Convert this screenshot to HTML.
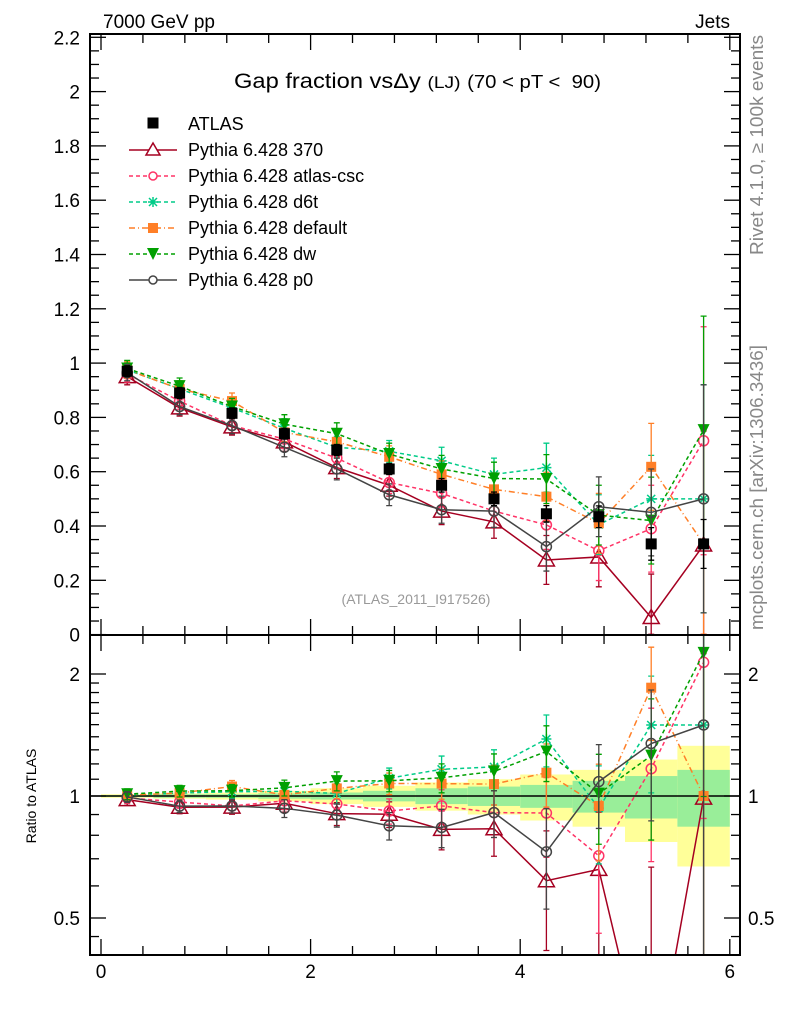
<!DOCTYPE html>
<html><head><meta charset="utf-8">
<style>
html,body{margin:0;padding:0;background:#fff;overflow:hidden;width:786px;height:1024px;}
svg{display:block;font-family:"Liberation Sans",sans-serif;}
</style></head>
<body>
<svg id="c" width="786" height="1024" viewBox="0 0 786 1024" xmlns="http://www.w3.org/2000/svg">
<rect width="786" height="1024" fill="#fff"/>
<text x="103" y="28" font-size="19">7000 GeV pp</text>
<text x="730" y="28" font-size="19" text-anchor="end">Jets</text>
<text x="234" y="88" font-size="21" textLength="367" lengthAdjust="spacingAndGlyphs">Gap fraction vs<tspan>Δ</tspan>y <tspan font-size="17">(LJ)</tspan> <tspan font-size="18">(70 &lt; pT &lt;&#160; 90)</tspan></text>
<text x="416" y="604" font-size="14" fill="#999" text-anchor="middle">(ATLAS_2011_I917526)</text>
<text transform="translate(763,255) rotate(-90)" font-size="18" fill="#888" textLength="220" lengthAdjust="spacingAndGlyphs">Rivet 4.1.0, ≥ 100k events</text>
<text transform="translate(763,630) rotate(-90)" font-size="18" fill="#888" textLength="285" lengthAdjust="spacingAndGlyphs">mcplots.cern.ch [arXiv:1306.3436]</text>
<text transform="translate(36,796) rotate(-90)" font-size="14" text-anchor="middle">Ratio to ATLAS</text>
<g id="bands"></g><g id="plots"></g><g id="axes"></g><g id="legend"></g>
</svg>
<script>
const xc=[0.25,0.75,1.25,1.75,2.25,2.75,3.25,3.75,4.25,4.75,5.25,5.75];
const atlas=[0.97,0.89,0.815,0.74,0.68,0.61,0.55,0.50,0.445,0.434,0.334,0.334];
const atlasErr=[0.02,0.02,0.02,0.02,0.02,0.02,0.025,0.025,0.03,0.04,0.06,0.09];
const s370=[0.95,0.835,0.765,0.71,0.615,0.55,0.455,0.415,0.275,0.286,0.063,0.33];
const sCsc=[0.96,0.86,0.77,0.72,0.65,0.56,0.52,0.455,0.404,0.309,0.39,0.714];
const sD6t=[0.975,0.905,0.835,0.76,0.69,0.675,0.64,0.59,0.615,0.405,0.50,0.50];
const sDef=[0.975,0.905,0.86,0.745,0.71,0.655,0.59,0.535,0.508,0.41,0.618,0.334];
const sDw=[0.98,0.915,0.84,0.775,0.74,0.665,0.61,0.575,0.573,0.44,0.42,0.753];
const sP0=[0.965,0.84,0.77,0.69,0.61,0.515,0.46,0.455,0.324,0.471,0.45,0.50];
const mcErr=[0.03,0.03,0.03,0.035,0.04,0.04,0.05,0.06,0.09,0.11,0.16,0.42];
const yelW=[0.01,0.015,0.02,0.03,0.045,0.06,0.08,0.10,0.13,0.16,0.23,0.33];
const grnW=[0.005,0.01,0.01,0.015,0.02,0.03,0.045,0.055,0.065,0.09,0.12,0.16];
const mainTicks=[0,0.2,0.4,0.6,0.8,1,1.2,1.4,1.6,1.8,2,2.2];
const ratioTicks=[0.5,1,2];
const xTicks=[0,2,4,6];

const NS="http://www.w3.org/2000/svg";
const L=90,R=740,T=34,M=635,B=955;
const X=v=>101+v*104.8;
const Y=v=>634.6-v*271.5;
const RY=r=>796-122*Math.log2(r);
function el(p,t,a){const e=document.createElementNS(NS,t);for(const k in a)e.setAttribute(k,a[k]);p.appendChild(e);return e;}
const svg=document.getElementById('c');
const defs=el(svg,'defs',{});
const c1=el(defs,'clipPath',{id:'cm'});el(c1,'rect',{x:L,y:T,width:R-L,height:M-T});
const c2=el(defs,'clipPath',{id:'cr'});el(c2,'rect',{x:L,y:M,width:R-L,height:B-M});

const bands=document.getElementById('bands');
bands.setAttribute('clip-path','url(#cr)');
xc.forEach((x,i)=>{
  const y=el(bands,'rect',{x:X(x-0.25),width:X(x+0.25)-X(x-0.25),y:RY(1+yelW[i]),height:RY(1-yelW[i])-RY(1+yelW[i]),fill:'#ffff99'});
  
  
  const g=el(bands,'rect',{x:X(x-0.25),width:X(x+0.25)-X(x-0.25),y:RY(1+grnW[i]),height:RY(1-grnW[i])-RY(1+grnW[i]),fill:'#99ee99'});
  
  
});
el(bands,'line',{x1:L,x2:R,y1:RY(1),y2:RY(1),stroke:'#000','stroke-width':1.5});

const series=[
 {name:'Pythia 6.428 370',key:'p370',d:s370,col:'#a50021',dash:'',m:'tri'},
 {name:'Pythia 6.428 atlas-csc',key:'atlas-csc',d:sCsc,col:'#ff3366',dash:'4,3',m:'circ'},
 {name:'Pythia 6.428 d6t',key:'d6t',d:sD6t,col:'#00cc88',dash:'4,3',m:'star'},
 {name:'Pythia 6.428 default',key:'default',d:sDef,col:'#ff7f27',dash:'6,3,1,3',m:'sq'},
 {name:'Pythia 6.428 dw',key:'dw',d:sDw,col:'#00a000',dash:'4,3',m:'tdn'},
 {name:'Pythia 6.428 p0',key:'p0',d:sP0,col:'#444444',dash:'',m:'circ'}
];
function marker(g,m,x,y,col){
  let e;
  if(m==='tri')e=el(g,'polygon',{points:`${x},${y-8} ${x-8},${y+6} ${x+8},${y+6}`,fill:'none',stroke:col,'stroke-width':1.5});
  else if(m==='circ')e=el(g,'circle',{cx:x,cy:y,r:5,fill:'none',stroke:col,'stroke-width':1.5});
  else if(m==='sq')e=el(g,'rect',{x:x-5,y:y-5,width:10,height:10,fill:col});
  else if(m==='bsq')e=el(g,'rect',{x:x-5.5,y:y-5.5,width:11,height:11,fill:col});
  else if(m==='tdn')e=el(g,'polygon',{points:`${x-6},${y-6} ${x+6},${y-6} ${x},${y+6}`,fill:col});
  else {e=el(g,'path',{d:`M${x-5} ${y}H${x+5}M${x} ${y-5}V${y+5}M${x-4} ${y-4}L${x+4} ${y+4}M${x-4} ${y+4}L${x+4} ${y-4}`,stroke:col,'stroke-width':1.5});}
  return e;
}
function errbar(g,x,y1,y2,col){
  el(g,'path',{d:`M${x} ${y1}V${y2}M${x-3} ${y1}H${x+3}M${x-3} ${y2}H${x+3}`,stroke:col,'stroke-width':1.3,fill:'none'});
}
const plots=document.getElementById('plots');
const gm=el(plots,'g',{'clip-path':'url(#cm)'});
const gr=el(plots,'g',{'clip-path':'url(#cr)'});
series.forEach(s=>{
  const g=el(gm,'g',{});
  
  
  const g2=el(gr,'g',{});
  
  
  el(g,'polyline',{points:xc.map((x,i)=>X(x)+','+Y(s.d[i])).join(' '),fill:'none',stroke:s.col,'stroke-width':1.5,'stroke-dasharray':s.dash});
  el(g2,'polyline',{points:xc.map((x,i)=>X(x)+','+RY(s.d[i]/atlas[i])).join(' '),fill:'none',stroke:s.col,'stroke-width':1.5,'stroke-dasharray':s.dash});
  xc.forEach((x,i)=>{
    const v=s.d[i],e=mcErr[i];
    errbar(g,X(x),Y(v+e),Y(Math.max(v-e,0.001)),s.col);
    const r=v/atlas[i],re=e/atlas[i];
    errbar(g2,X(x),RY(r+re),RY(Math.max(r-re,0.05)),s.col);
    const mk=marker(g,s.m,X(x),Y(v),s.col);
    
    
    const mk2=marker(g2,s.m,X(x),RY(r),s.col);
    
    
  });
});
const ga=el(gm,'g',{});


xc.forEach((x,i)=>{
  errbar(ga,X(x),Y(atlas[i]+atlasErr[i]),Y(atlas[i]-atlasErr[i]),'#000');
  const mk=marker(ga,'bsq',X(x),Y(atlas[i]),'#000');
  
  
});

const ax=document.getElementById('axes');
el(ax,'rect',{x:L,y:T,width:R-L,height:B-T,fill:'none',stroke:'#000','stroke-width':2});
el(ax,'line',{x1:L,x2:R,y1:M,y2:M,stroke:'#000','stroke-width':2});
for(let k=0;k<=44;k++){
  const v=k*0.05,maj=k%4===0,len=maj?16:9,y=Y(v);
  el(ax,'line',{x1:L,x2:L+len,y1:y,y2:y,stroke:'#000','stroke-width':1.3});
  el(ax,'line',{x1:R,x2:R-len,y1:y,y2:y,stroke:'#000','stroke-width':1.3});
}
mainTicks.forEach(v=>{
  const t=el(ax,'text',{x:80,y:Y(v)+7,'font-size':19,'text-anchor':'end'});
  t.textContent=String(v);
  
  
});
[0.45,0.5,0.6,0.7,0.8,0.9,1,1.1,1.2,1.3,1.4,1.5,1.6,1.7,1.8,1.9,2].forEach(v=>{
  const maj=ratioTicks.includes(v),len=maj?16:9,y=RY(v);
  el(ax,'line',{x1:L,x2:L+len,y1:y,y2:y,stroke:'#000','stroke-width':1.3});
  el(ax,'line',{x1:R,x2:R-len,y1:y,y2:y,stroke:'#000','stroke-width':1.3});
});
ratioTicks.forEach(v=>{
  const t=el(ax,'text',{x:80,y:RY(v)+7,'font-size':19,'text-anchor':'end'});
  t.textContent=String(v);
  
  
  const t2=el(ax,'text',{x:748,y:RY(v)+7,'font-size':19});
  t2.textContent=String(v);
  
  
});
for(let k=0;k<=15;k++){
  const v=k*0.4; if(X(v)>R)break;
  const maj=k%5===0,len=maj?16:9,x=X(v);
  [[T,1],[M,-1],[M,1],[B,-1]].forEach(([y0,d])=>el(ax,'line',{x1:x,x2:x,y1:y0,y2:y0+d*len,stroke:'#000','stroke-width':1.3}));
}
xTicks.forEach(v=>{
  const t=el(ax,'text',{x:X(v),y:978,'font-size':19,'text-anchor':'middle'});
  t.textContent=String(v);
  
  
});

const lg=document.getElementById('legend');


const la=el(lg,'g',{});


marker(la,'bsq',153,123,'#000');
el(la,'text',{x:188,y:130,'font-size':18}).textContent='ATLAS';
series.forEach((s,i)=>{
  const y=150+i*26;
  const g=el(lg,'g',{});
  
  
  el(g,'line',{x1:129,x2:177,y1:y,y2:y,stroke:s.col,'stroke-width':1.5,'stroke-dasharray':s.dash});
  if(s.m==='tri')el(g,'polygon',{points:`153,${y-7} 146,${y+5} 160,${y+5}`,fill:'#fff',stroke:s.col,'stroke-width':1.5});
  else if(s.m==='circ')el(g,'circle',{cx:153,cy:y,r:4,fill:'#fff',stroke:s.col,'stroke-width':1.5});
  else marker(g,s.m,153,y,s.col);
  el(g,'text',{x:188,y:y+6,'font-size':18}).textContent=s.name;
});
</script>
</body></html>
